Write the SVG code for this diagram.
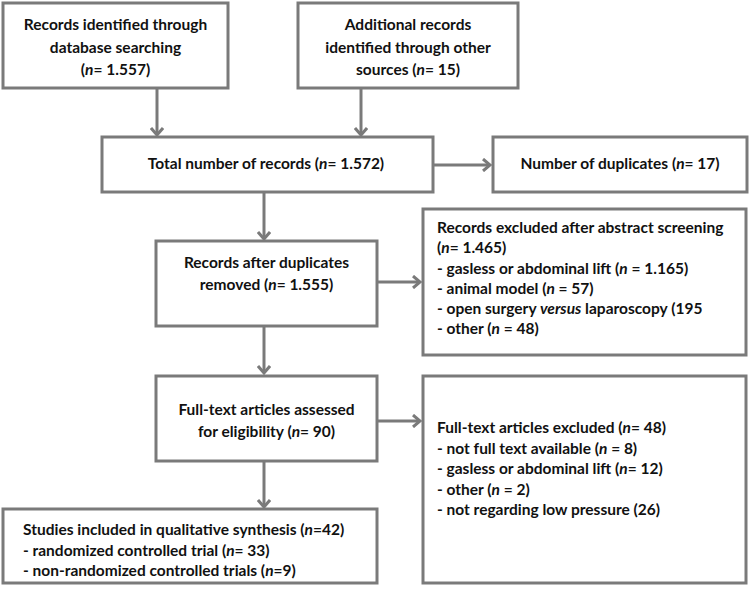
<svg xmlns="http://www.w3.org/2000/svg" width="750" height="589" viewBox="0 0 750 589">
<defs>
<style>
.box{fill:#fff;stroke:#7a7a7a;stroke-width:3}
.t{font-family:Lato,"Liberation Sans",sans-serif;font-weight:bold;font-size:15.5px;fill:#111}
.c{text-anchor:middle}
.i{font-style:italic}
.ln{stroke:#7a7a7a;stroke-width:3;fill:none}
</style>
<marker id="ah" markerWidth="14" markerHeight="14" refX="10" refY="7" orient="auto" markerUnits="userSpaceOnUse">
<path d="M3,1 L10,7 L3,13" fill="none" stroke="#7a7a7a" stroke-width="3"/>
</marker>
</defs>
<g id="connectors">
<line class="ln" x1="157" y1="88" x2="157" y2="135" marker-end="url(#ah)"/>
<line class="ln" x1="361" y1="88" x2="361" y2="135" marker-end="url(#ah)"/>
<line class="ln" x1="433" y1="165" x2="490" y2="165" marker-end="url(#ah)"/>
<line class="ln" x1="264" y1="192" x2="264" y2="239" marker-end="url(#ah)"/>
<line class="ln" x1="377" y1="282" x2="420" y2="282" marker-end="url(#ah)"/>
<line class="ln" x1="264" y1="326" x2="264" y2="373" marker-end="url(#ah)"/>
<line class="ln" x1="377" y1="421" x2="420" y2="421" marker-end="url(#ah)"/>
<line class="ln" x1="264" y1="461" x2="264" y2="507" marker-end="url(#ah)"/>
</g>
<g id="n1">
<rect class="box" x="3" y="3" width="225" height="85"/>
<text class="t c" x="115.5" y="30">Records identified through</text>
<text class="t c" x="115.5" y="53">database searching</text>
<text class="t c" x="115.5" y="75">(<tspan class="i">n</tspan>= 1.557)</text>
</g>
<g id="n2">
<rect class="box" x="298" y="3" width="220" height="85"/>
<text class="t c" x="408" y="30">Additional records</text>
<text class="t c" x="408" y="53">identified through other</text>
<text class="t c" x="408" y="75">sources (<tspan class="i">n</tspan>= 15)</text>
</g>
<g id="n3">
<rect class="box" x="102" y="137" width="331" height="55"/>
<text class="t c" x="266" y="169">Total number of records (<tspan class="i">n</tspan>= 1.572)</text>
</g>
<g id="n4">
<rect class="box" x="493" y="137" width="254" height="55"/>
<text class="t c" x="620" y="169">Number of duplicates (<tspan class="i">n</tspan>= 17)</text>
</g>
<g id="n5">
<rect class="box" x="156" y="241" width="221" height="85"/>
<text class="t c" x="266.5" y="268">Records after duplicates</text>
<text class="t c" x="266.5" y="290">removed (<tspan class="i">n</tspan>= 1.555)</text>
</g>
<g id="n6">
<rect class="box" x="423" y="209" width="323" height="146"/>
<text class="t" x="437" y="233">Records excluded after abstract screening</text>
<text class="t" x="437" y="253">(<tspan class="i">n</tspan>= 1.465)</text>
<text class="t" x="437" y="274">- gasless or abdominal lift (<tspan class="i">n</tspan> = 1.165)</text>
<text class="t" x="437" y="294">- animal model (<tspan class="i">n</tspan> = 57)</text>
<text class="t" x="437" y="314">- open surgery <tspan class="i">versus</tspan> laparoscopy (195</text>
<text class="t" x="437" y="334">- other (<tspan class="i">n</tspan> = 48)</text>
</g>
<g id="n7">
<rect class="box" x="156" y="376" width="221" height="85"/>
<text class="t c" x="266.5" y="415">Full-text articles assessed</text>
<text class="t c" x="266.5" y="437">for eligibility (<tspan class="i">n</tspan>= 90)</text>
</g>
<g id="n8">
<rect class="box" x="423" y="376" width="323" height="207"/>
<text class="t" x="437" y="433">Full-text articles excluded (<tspan class="i">n</tspan>= 48)</text>
<text class="t" x="437" y="454">- not full text available (<tspan class="i">n</tspan> = 8)</text>
<text class="t" x="437" y="474">- gasless or abdominal lift (<tspan class="i">n</tspan>= 12)</text>
<text class="t" x="437" y="495">- other (<tspan class="i">n</tspan> = 2)</text>
<text class="t" x="437" y="515">- not regarding low pressure (26)</text>
</g>
<g id="n9">
<rect class="box" x="3" y="509" width="374" height="74"/>
<text class="t" x="23" y="535">Studies included in qualitative synthesis (<tspan class="i">n</tspan>=42)</text>
<text class="t" x="23" y="556">- randomized controlled trial (<tspan class="i">n</tspan>= 33)</text>
<text class="t" x="23" y="576">- non-randomized controlled trials (<tspan class="i">n</tspan>=9)</text>
</g>
</svg>
